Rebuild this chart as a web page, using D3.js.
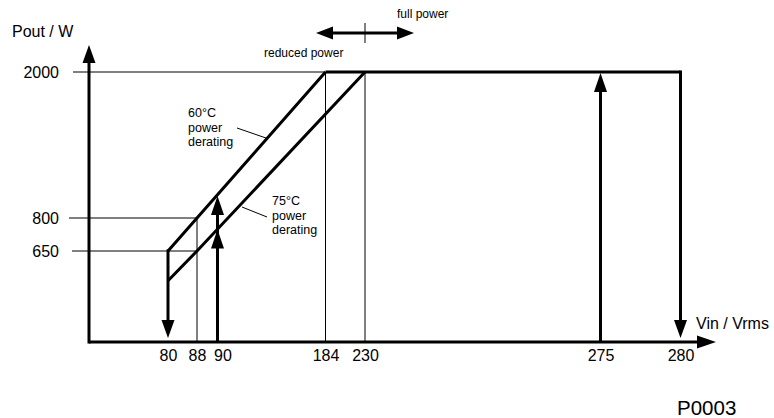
<!DOCTYPE html>
<html>
<head>
<meta charset="utf-8">
<script src="https://cdn.jsdelivr.net/npm/d3@7"></script>
<style>
body { margin: 0; background: #fff; }
text { font-family: "Liberation Sans", Arial, sans-serif; fill: #000; }
</style>
</head>
<body>
<svg id="chart" width="774" height="418"></svg>
<script>
"use strict";
// input voltage ticks (V) and output power ticks (W)
var xTicks = [80, 88, 90, 184, 230, 275, 280];
var yTicks = [650, 800, 2000];

// derating curves [Vin, Pout]
var curve60 = [[80, 650], [88, 800], [184, 2000]];
var curve75 = [[80, 515], [88, 650], [230, 2000]];
var fullPower = [[184, 2000], [280, 2000]];

// operating limits
var downArrows = [{v: 80, from: 650}, {v: 280, from: 2000}];
var upArrows = [{v: 90, to: 990, heads: [990, 752]}, {v: 275, to: 2000, heads: [2000]}];

// thin guide lines
var hGuides = [{p: 2000, v: 184}, {p: 800, v: 88}, {p: 650, v: 88}];
var vGuides = [{v: 88, p: 800}, {v: 184, p: 2000}, {v: 230, p: 2000}];
var boundaryV = 230;

// schematic (not to scale) axes
var originX = 89, axisY = 342;
var x = d3.scaleLinear().domain(xTicks).range([168, 197, 217.5, 325.5, 365, 600.5, 680.5]);
var y = d3.scaleLinear().domain(yTicks).range([251, 218, 72]);

var svg = d3.select("#chart");

function head(g, hx, hy, dir, len, hw) {
	// triangle with tip at (hx,hy) pointing dir
	var pts;
	if (dir == "up") pts = [[hx, hy], [hx - hw, hy + len], [hx + hw, hy + len]];
	else if (dir == "down") pts = [[hx, hy], [hx - hw, hy - len], [hx + hw, hy - len]];
	else if (dir == "right") pts = [[hx, hy], [hx - len, hy - hw], [hx - len, hy + hw]];
	else pts = [[hx, hy], [hx + len, hy - hw], [hx + len, hy + hw]];
	g.append("path").attr("d", "M" + pts.join("L") + "Z").attr("fill", "#000");
}

var line = d3.line().x(function(d) { return x(d[0]); }).y(function(d) { return y(d[1]); });

// thin guides
var guides = svg.append("g").attr("stroke", "#000").attr("stroke-width", 1);
hGuides.forEach(function(d, i) {
	guides.append("line")
		.attr("x1", [73, 69, 72][i]).attr("x2", x(d.v))
		.attr("y1", y(d.p)).attr("y2", y(d.p));
});
vGuides.forEach(function(d) {
	guides.append("line")
		.attr("x1", x(d.v)).attr("x2", x(d.v))
		.attr("y1", y(d.p)).attr("y2", axisY);
});

// thick curves
var thick = svg.append("g").attr("fill", "none").attr("stroke", "#000").attr("stroke-width", 3);
thick.append("path").attr("d", line(curve60));
thick.append("path").attr("d", line(curve75));
thick.append("path").attr("d", line(fullPower));

// arrows
downArrows.forEach(function(d) {
	thick.append("line").attr("x1", x(d.v)).attr("x2", x(d.v))
		.attr("y1", y(d.from) - 1.5).attr("y2", axisY - 10);
	head(svg, x(d.v), axisY - 4, "down", 18, 6.5);
});
upArrows.forEach(function(d) {
	thick.append("line").attr("x1", x(d.v)).attr("x2", x(d.v))
		.attr("y1", axisY).attr("y2", y(d.to) + 8);
	d.heads.forEach(function(p) { head(svg, x(d.v), y(p) + 1, "up", 19, 6.5); });
});

// axes lines
thick.append("line").attr("x1", originX).attr("x2", 700).attr("y1", axisY).attr("y2", axisY);
head(svg, 716, axisY, "right", 19, 6.5);
thick.append("line").attr("x1", originX).attr("x2", originX).attr("y1", axisY + 1.5).attr("y2", 60);
head(svg, originX, 45, "up", 18, 6.5);

// tick labels
var xAxis = svg.append("g").attr("transform", "translate(0," + axisY + ")")
	.call(d3.axisBottom(x).tickValues(xTicks).tickSize(0).tickPadding(8).tickFormat(d3.format("d")));
xAxis.select(".domain").remove();
xAxis.selectAll("text").attr("font-size", 16).attr("font-family", null)
	.attr("dx", function(d) { return d == 90 ? 5 : 0; });

var yAxis = svg.append("g").attr("transform", "translate(" + (originX - 30) + ",0)")
	.call(d3.axisLeft(y).tickValues(yTicks).tickSize(0).tickPadding(0).tickFormat(d3.format("d")));
yAxis.select(".domain").remove();
yAxis.selectAll("text").attr("font-size", 16).attr("font-family", null);

// axis titles
svg.append("text").attr("x", 12).attr("y", 37).attr("font-size", 16).text("Pout / W");
svg.append("text").attr("x", 696).attr("y", 329).attr("font-size", 16).text("Vin / Vrms");

// full / reduced power marker
var bx = x(boundaryV);
thick.append("line").attr("x1", 330).attr("x2", 400).attr("y1", 33).attr("y2", 33);
head(svg, 316, 33, "left", 17, 6.5);
head(svg, 414, 33, "right", 17, 6.5);
svg.append("line").attr("x1", bx).attr("x2", bx).attr("y1", 23).attr("y2", 43)
	.attr("stroke", "#000").attr("stroke-width", 1);
svg.append("text").attr("x", 397).attr("y", 18).attr("font-size", 12).text("full power");
svg.append("text").attr("x", 264).attr("y", 57).attr("font-size", 12).text("reduced power");

// curve annotations
function note(tx, ty, lines, lx1, ly1, lx2, ly2) {
	var t = svg.append("text").attr("x", tx).attr("y", ty).attr("font-size", 12.5);
	lines.forEach(function(s, i) {
		t.append("tspan").attr("x", tx).attr("dy", i ? 14.5 : 0).text(s);
	});
	svg.append("line").attr("x1", lx1).attr("y1", ly1).attr("x2", lx2).attr("y2", ly2)
		.attr("stroke", "#000").attr("stroke-width", 1);
}
note(188, 117, ["60°C", "power", "derating"], 237, 128, 266, 138);
note(272, 205, ["75°C", "power", "derating"], 242, 207, 267, 217);

svg.append("text").attr("x", 677).attr("y", 415).attr("font-size", 20.5).text("P0003");
</script>
</body>
</html>
